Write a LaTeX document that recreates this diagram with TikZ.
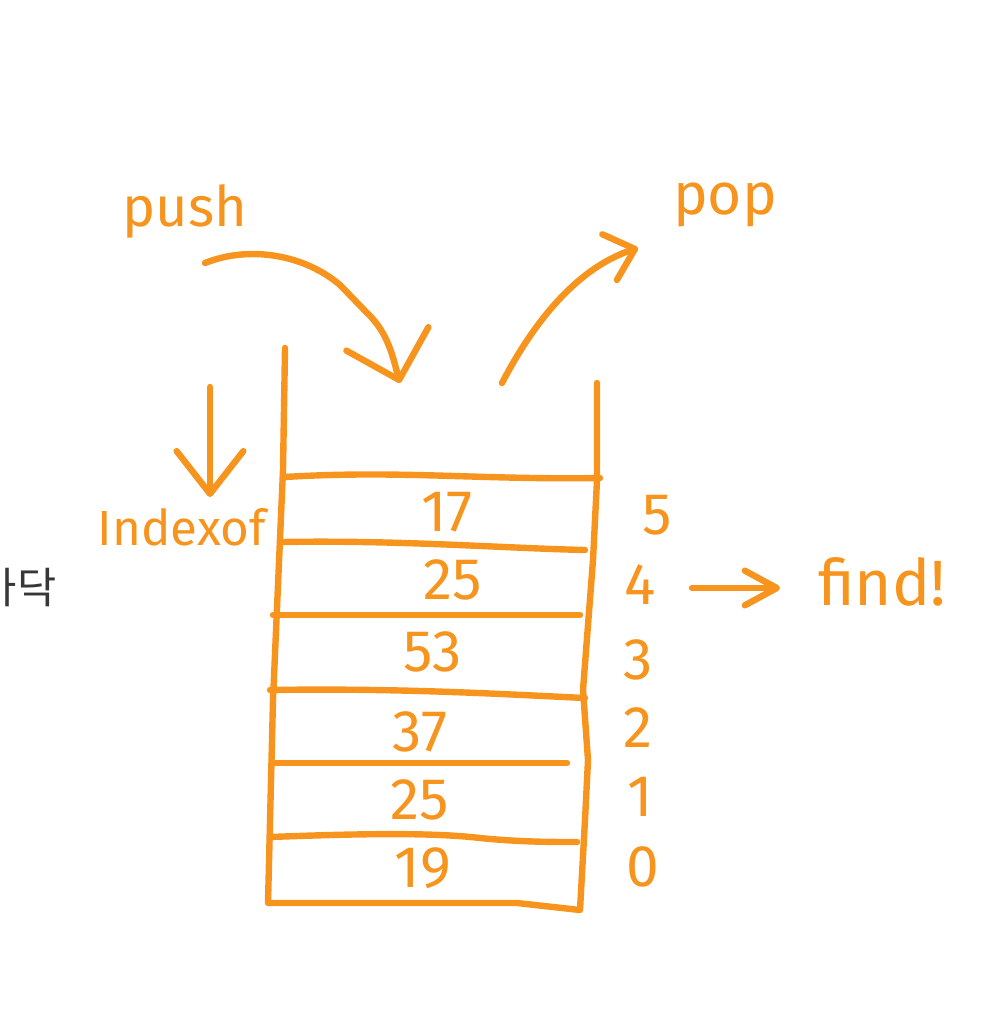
\documentclass[tikz,border=0pt]{standalone}
\usepackage{fontspec}
\setmainfont{Fira Sans}
\newfontfamily\korfont{Noto Sans CJK KR}
\usetikzlibrary{arrows.meta}

\definecolor{penorange}{RGB}{247,148,30}
\definecolor{inkgray}{RGB}{55,55,55}

\tikzset{every picture/.style={line width=0.75pt}}
\tikzset{
  pen/.style={draw=penorange, line width=4.8pt, line cap=round, line join=round},
  handtext/.style={text=penorange, inner sep=0pt, font=\fontsize{#1}{#1}\selectfont},
  handtext/.default=44pt,
}

\begin{document}
\begin{tikzpicture}[x=0.75pt,y=0.75pt,yscale=-1,xscale=1]
	\useasboundingbox (0,0) rectangle (1000,1027);

	% Text Node (cut by the left edge)
	\node [anchor=east, inner sep=0pt, text=inkgray, font=\korfont\fontsize{32pt}{32pt}\selectfont] (floor) at (57,588) {바닥};

	% Labels
	\node [handtext=42pt] (push) at (185,212) {push};
	\node [handtext=44pt] (pop) at (725,205) {pop};
	\node [handtext=37pt] (indexof) at (182,527) {Indexof};
	\node [handtext=48pt] (find) at (882,582) {find!};

	% Stack walls
	\draw [pen] (285,348) -- (283,470) -- (273,700) -- (268,903) -- (517,903) -- (580,910) -- (585,820) -- (588,760) -- (583,690) -- (593,560) -- (597,480) -- (597,383);
	% Dividers
	\draw [pen] (285,477) .. controls (400,470) and (480,480) .. (600,478);
	\draw [pen] (283,542) .. controls (400,540) and (500,548) .. (585,550);
	\draw [pen] (273,615) -- (580,615);
	\draw [pen] (270,690) .. controls (400,688) and (500,694) .. (585,698);
	\draw [pen] (275,763) -- (567,763);
	\draw [pen] (270,837) .. controls (350,834) and (430,832) .. (480,838) .. controls (520,842) and (550,842) .. (577,842);

	% Cell values
	\node [handtext] (v5) at (447,512) {17};
	\node [handtext] (v4) at (453,580) {25};
	\node [handtext] (v3) at (433,652) {53};
	\node [handtext] (v2) at (420,732) {37};
	\node [handtext] (v1) at (420,800) {25};
	\node [handtext] (v0) at (423,868) {19};

	% Indices
	\node [handtext] (i5) at (657,515) {5};
	\node [handtext] (i4) at (640,585) {4};
	\node [handtext] (i3) at (638,660) {3};
	\node [handtext] (i2) at (638,728) {2};
	\node [handtext] (i1) at (640,797) {1};
	\node [handtext] (i0) at (643,867) {0};

	% Arrow ends
	\coordinate (pushin) at (205,263);
	\coordinate (pushtip) at (400,383);
	\coordinate (popout) at (502,383);
	\coordinate (poptip) at (638,248);
	\coordinate (idxtop) at (210,387);
	\coordinate (idxtip) at (210,497);
	\coordinate (findfrom) at (692,588);
	\coordinate (findtip) at (780,588);

	% push arrow
	\draw [pen, -{Straight Barb[length=32pt, width=64pt, round]}] (pushin) .. controls (250,245) and (305,255) .. (340,285) -- (372,318) .. controls (390,338) and (394,362) .. (pushtip);
	% pop arrow
	\draw [pen, -{Straight Barb[length=20pt, width=36pt, round]}] (popout) .. controls (540,310) and (585,265) .. (poptip);
	% indexof arrow
	\draw [pen, -{Straight Barb[length=32pt, width=50pt, round]}] (idxtop) -- (idxtip);
	% found
	\draw [pen, -{Straight Barb[length=24pt, width=26pt, round]}] (findfrom) -- (findtip);

\end{tikzpicture}
\end{document}
